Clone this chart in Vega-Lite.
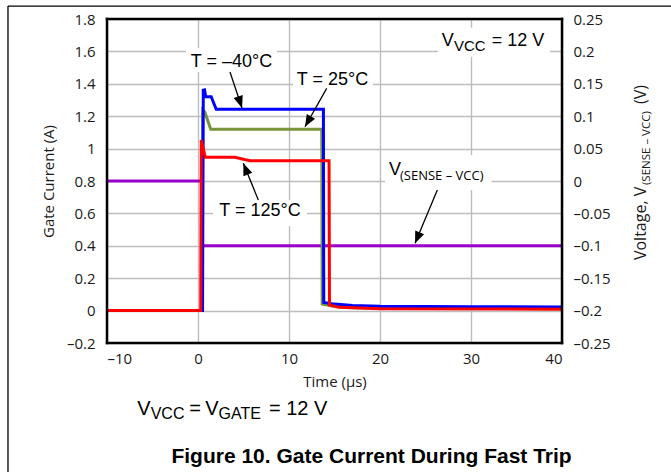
{
  "$schema": "https://vega.github.io/schema/vega-lite/v6.json",
  "width": 455,
  "height": 324,
  "autosize": {"type": "none"},
  "padding": {"left": 107, "top": 19, "right": 109, "bottom": 129},
  "background": "white",
  "config": {
    "view": {"stroke": null},
    "axis": {
      "labelFont": "Open Sans", "labelFontSize": 15, "labelColor": "#1a1a1a", "labelOverlap": false,
      "titleFont": "Open Sans", "titleFontSize": 15, "titleFontWeight": "normal", "titleColor": "#1a1a1a",
      "ticks": false, "domain": false, "gridColor": "#bdbdbd", "gridWidth": 1.4
    },
    "text": {"font": "Liberation Sans", "color": "black"}
  },
  "datasets": {
    "curves": [
      {"s": "T = 25°C", "t": -10, "v": 0},
      {"s": "T = 25°C", "t": 0.45, "v": 0},
      {"s": "T = 25°C", "t": 0.52, "v": 1.238},
      {"s": "T = 25°C", "t": 0.75, "v": 1.225},
      {"s": "T = 25°C", "t": 1.4, "v": 1.119},
      {"s": "T = 25°C", "t": 13.6, "v": 1.119},
      {"s": "T = 25°C", "t": 13.65, "v": 0.04},
      {"s": "T = 25°C", "t": 15, "v": 0.025},
      {"s": "T = 25°C", "t": 17, "v": 0.018},
      {"s": "T = 25°C", "t": 20, "v": 0.016},
      {"s": "T = 25°C", "t": 40, "v": 0.014},
      {"s": "T = –40°C", "t": -10, "v": 0},
      {"s": "T = –40°C", "t": 0.5, "v": 0},
      {"s": "T = –40°C", "t": 0.58, "v": 1.36},
      {"s": "T = –40°C", "t": 0.72, "v": 1.362},
      {"s": "T = –40°C", "t": 0.85, "v": 1.32},
      {"s": "T = –40°C", "t": 1.45, "v": 1.32},
      {"s": "T = –40°C", "t": 2.0, "v": 1.243},
      {"s": "T = –40°C", "t": 13.78, "v": 1.243},
      {"s": "T = –40°C", "t": 13.82, "v": 0.05},
      {"s": "T = –40°C", "t": 15, "v": 0.04},
      {"s": "T = –40°C", "t": 17, "v": 0.032},
      {"s": "T = –40°C", "t": 20, "v": 0.027},
      {"s": "T = –40°C", "t": 30, "v": 0.024},
      {"s": "T = –40°C", "t": 40, "v": 0.022},
      {"s": "T = 125°C", "t": -10, "v": 0},
      {"s": "T = 125°C", "t": 0.3, "v": 0},
      {"s": "T = 125°C", "t": 0.36, "v": 1.053},
      {"s": "T = 125°C", "t": 0.8, "v": 0.946},
      {"s": "T = 125°C", "t": 4.05, "v": 0.946},
      {"s": "T = 125°C", "t": 5.7, "v": 0.925},
      {"s": "T = 125°C", "t": 14.4, "v": 0.925},
      {"s": "T = 125°C", "t": 14.45, "v": 0.035},
      {"s": "T = 125°C", "t": 15.5, "v": 0.02},
      {"s": "T = 125°C", "t": 20, "v": 0.012},
      {"s": "T = 125°C", "t": 40, "v": 0.008}
    ],
    "sense": [
      {"t": -10, "v": 0},
      {"t": 0.38, "v": 0},
      {"t": 0.42, "v": -0.1},
      {"t": 40, "v": -0.1}
    ],
    "boxes": [
      {"t": -1.32, "t2": 8.68, "v": 1.473, "v2": 1.621},
      {"t": 10.44, "t2": 19.23, "v": 1.331, "v2": 1.485},
      {"t": 1.65, "t2": 11.98, "v": 0.522, "v2": 0.683},
      {"t": 20.55, "t2": 32.27, "v": 0.744, "v2": 0.96},
      {"t": 26.37, "t2": 38.68, "v": 1.567, "v2": 1.746}
    ],
    "arrows": [
      {"a": "a1", "t": 3.516, "v": 1.473, "t2": 4.835, "v2": 1.251},
      {"a": "a2", "t": 14.14, "v": 1.372, "t2": 11.76, "v2": 1.135},
      {"a": "a3", "t": 6.63, "v": 0.683, "t2": 4.98, "v2": 0.909},
      {"a": "a4", "t": 26.3, "v": 0.744, "t2": 23.85, "v2": 0.415}
    ],
    "notes": [
      {"k": "c18", "text": "T = –40°C", "t": 3.68, "v": 1.506},
      {"k": "c18", "text": "T = 25°C", "t": 14.78, "v": 1.393},
      {"k": "c18", "text": "T = 125°C", "t": 6.81, "v": 0.584},
      {"k": "l18", "text": "V", "t": 20.99, "v": 0.837},
      {"k": "l18", "text": "V", "t": 26.78, "v": 1.635},
      {"k": "l18", "text": "= 12 V", "t": 32.27, "v": 1.635},
      {"k": "l15", "text": "VCC", "t": 28.13, "v": 1.602},
      {"k": "s13", "text": "(SENSE – VCC)", "t": 22.2, "v": 0.806},
      {"k": "l20", "text": "V", "t": -6.67, "v": -0.644},
      {"k": "l20", "text": "=", "t": -0.956, "v": -0.644},
      {"k": "l20", "text": "V", "t": 0.8, "v": -0.644},
      {"k": "l20", "text": "= 12 V", "t": 7.802, "v": -0.644},
      {"k": "l16", "text": "VCC", "t": -5.198, "v": -0.671},
      {"k": "l16", "text": "GATE", "t": 2.26, "v": -0.671},
      {"k": "b21", "text": "Figure 10. Gate Current During Fast Trip", "t": 19.07, "v": -0.943},
      {"k": "r16", "text": "Voltage, V", "t": 49.23, "v": 0.312},
      {"k": "r16", "text": "(V)", "t": 49.23, "v": 1.275},
      {"k": "r11", "text": "(SENSE – VCC)", "t": 49.67, "v": 0.775}
    ],
    "frame": [
      {"t": -10, "v": -0.2, "t2": -10, "v2": 1.8},
      {"t": 40, "v": -0.2, "t2": 40, "v2": 1.8},
      {"t": -10, "v": -0.2, "t2": 40, "v2": -0.2},
      {"t": -10, "v": 1.8, "t2": 40, "v2": 1.8}
    ],
    "outer": [
      {"t": -20.88, "v": 1.88, "t2": -20.88, "v2": -1.0},
      {"t": -20.88, "v": 1.88, "t2": 51.98, "v2": 1.88}
    ]
  },
  "resolve": {"scale": {"x": "independent", "y": "independent"}},
  "layer": [
    {
      "data": {"name": "sense"},
      "mark": {"type": "line", "color": "#9900cc", "strokeWidth": 3},
      "encoding": {
        "x": {"field": "t", "type": "quantitative", "scale": {"domain": [-10, 40], "nice": false, "zero": false}, "axis": null},
        "y": {
          "field": "v", "type": "quantitative",
          "scale": {"domain": [-0.25, 0.25], "nice": false, "zero": false},
          "axis": {
            "orient": "right", "title": null, "grid": false, "labelPadding": 11,
            "values": [-0.25, -0.2, -0.15, -0.1, -0.05, 0, 0.05, 0.1, 0.15, 0.2, 0.25],
            "labelExpr": "datum.value < 0 ? '–' + format(-datum.value, '~g') : format(datum.value, '~g')"
          }
        }
      }
    },
    {
      "data": {"name": "curves"},
      "mark": {"type": "line", "strokeWidth": 3},
      "encoding": {
        "x": {
          "field": "t", "type": "quantitative",
          "scale": {"domain": [-10, 40], "nice": false, "zero": false},
          "axis": {
            "orient": "bottom", "title": "Time (µs)", "grid": true, "labelPadding": 8, "titlePadding": 8,
            "values": [-10, 0, 10, 20, 30, 40],
            "labelExpr": "datum.value < 0 ? '–' + format(-datum.value, '~g') : format(datum.value, '~g')"
          }
        },
        "y": {
          "field": "v", "type": "quantitative",
          "scale": {"domain": [-0.2, 1.8], "nice": false, "zero": false},
          "axis": {
            "orient": "left", "title": "Gate Current (A)", "grid": true, "labelPadding": 12, "titlePadding": 10,
            "values": [-0.2, 0, 0.2, 0.4, 0.6, 0.8, 1, 1.2, 1.4, 1.6, 1.8],
            "labelExpr": "datum.value < 0 ? '–' + format(-datum.value, '~g') : format(datum.value, '~g')"
          }
        },
        "color": {
          "field": "s", "type": "nominal",
          "scale": {"domain": ["T = 25°C", "T = –40°C", "T = 125°C"], "range": ["#77933c", "#0000ff", "#ff0000"]},
          "legend": null
        }
      }
    },
    {
      "data": {"name": "boxes"},
      "mark": {"type": "rect", "fill": "white"},
      "encoding": {
        "x": {"field": "t", "type": "quantitative", "scale": {"domain": [-10, 40], "nice": false, "zero": false}, "axis": null},
        "x2": {"field": "t2"},
        "y": {"field": "v", "type": "quantitative", "scale": {"domain": [-0.2, 1.8], "nice": false, "zero": false}, "axis": null},
        "y2": {"field": "v2"}
      }
    },
    {
      "data": {"name": "arrows"},
      "mark": {"type": "rule", "color": "black", "strokeWidth": 1.3},
      "encoding": {
        "x": {"field": "t", "type": "quantitative", "scale": {"domain": [-10, 40], "nice": false, "zero": false}, "axis": null},
        "x2": {"field": "t2"},
        "y": {"field": "v", "type": "quantitative", "scale": {"domain": [-0.2, 1.8], "nice": false, "zero": false}, "axis": null},
        "y2": {"field": "v2"}
      }
    },
    {
      "data": {"name": "arrows"},
      "transform": [{"filter": "datum.a === 'a1'"}],
      "mark": {"type": "point", "shape": "M0,0L-0.8,2L0.8,2Z", "filled": true, "color": "black", "opacity": 1, "size": 144, "angle": 161.6},
      "encoding": {
        "x": {"field": "t2", "type": "quantitative", "scale": {"domain": [-10, 40], "nice": false, "zero": false}, "axis": null},
        "y": {"field": "v2", "type": "quantitative", "scale": {"domain": [-0.2, 1.8], "nice": false, "zero": false}, "axis": null}
      }
    },
    {
      "data": {"name": "arrows"},
      "transform": [{"filter": "datum.a === 'a2'"}],
      "mark": {"type": "point", "shape": "M0,0L-0.8,2L0.8,2Z", "filled": true, "color": "black", "opacity": 1, "size": 144, "angle": 209.5},
      "encoding": {
        "x": {"field": "t2", "type": "quantitative", "scale": {"domain": [-10, 40], "nice": false, "zero": false}, "axis": null},
        "y": {"field": "v2", "type": "quantitative", "scale": {"domain": [-0.2, 1.8], "nice": false, "zero": false}, "axis": null}
      }
    },
    {
      "data": {"name": "arrows"},
      "transform": [{"filter": "datum.a === 'a3'"}],
      "mark": {"type": "point", "shape": "M0,0L-0.8,2L0.8,2Z", "filled": true, "color": "black", "opacity": 1, "size": 144, "angle": 337.8},
      "encoding": {
        "x": {"field": "t2", "type": "quantitative", "scale": {"domain": [-10, 40], "nice": false, "zero": false}, "axis": null},
        "y": {"field": "v2", "type": "quantitative", "scale": {"domain": [-0.2, 1.8], "nice": false, "zero": false}, "axis": null}
      }
    },
    {
      "data": {"name": "arrows"},
      "transform": [{"filter": "datum.a === 'a4'"}],
      "mark": {"type": "point", "shape": "M0,0L-0.8,2L0.8,2Z", "filled": true, "color": "black", "opacity": 1, "size": 144, "angle": 202.7},
      "encoding": {
        "x": {"field": "t2", "type": "quantitative", "scale": {"domain": [-10, 40], "nice": false, "zero": false}, "axis": null},
        "y": {"field": "v2", "type": "quantitative", "scale": {"domain": [-0.2, 1.8], "nice": false, "zero": false}, "axis": null}
      }
    },
    {
      "data": {"name": "notes"},
      "transform": [{"filter": "datum.k === 'c18'"}],
      "mark": {"type": "text", "fontSize": 18, "align": "center", "baseline": "alphabetic"},
      "encoding": {
        "x": {"field": "t", "type": "quantitative", "scale": {"domain": [-10, 40], "nice": false, "zero": false}, "axis": null},
        "y": {"field": "v", "type": "quantitative", "scale": {"domain": [-0.2, 1.8], "nice": false, "zero": false}, "axis": null},
        "text": {"field": "text"}
      }
    },
    {
      "data": {"name": "notes"},
      "transform": [{"filter": "datum.k === 'l18'"}],
      "mark": {"type": "text", "fontSize": 18, "align": "left", "baseline": "alphabetic"},
      "encoding": {
        "x": {"field": "t", "type": "quantitative", "scale": {"domain": [-10, 40], "nice": false, "zero": false}, "axis": null},
        "y": {"field": "v", "type": "quantitative", "scale": {"domain": [-0.2, 1.8], "nice": false, "zero": false}, "axis": null},
        "text": {"field": "text"}
      }
    },
    {
      "data": {"name": "notes"},
      "transform": [{"filter": "datum.k === 'l15'"}],
      "mark": {"type": "text", "fontSize": 15, "align": "left", "baseline": "alphabetic"},
      "encoding": {
        "x": {"field": "t", "type": "quantitative", "scale": {"domain": [-10, 40], "nice": false, "zero": false}, "axis": null},
        "y": {"field": "v", "type": "quantitative", "scale": {"domain": [-0.2, 1.8], "nice": false, "zero": false}, "axis": null},
        "text": {"field": "text"}
      }
    },
    {
      "data": {"name": "notes"},
      "transform": [{"filter": "datum.k === 's13'"}],
      "mark": {"type": "text", "font": "Open Sans", "fontSize": 13, "align": "left", "baseline": "alphabetic"},
      "encoding": {
        "x": {"field": "t", "type": "quantitative", "scale": {"domain": [-10, 40], "nice": false, "zero": false}, "axis": null},
        "y": {"field": "v", "type": "quantitative", "scale": {"domain": [-0.2, 1.8], "nice": false, "zero": false}, "axis": null},
        "text": {"field": "text"}
      }
    },
    {
      "data": {"name": "notes"},
      "transform": [{"filter": "datum.k === 'l20'"}],
      "mark": {"type": "text", "fontSize": 20, "align": "left", "baseline": "alphabetic"},
      "encoding": {
        "x": {"field": "t", "type": "quantitative", "scale": {"domain": [-10, 40], "nice": false, "zero": false}, "axis": null},
        "y": {"field": "v", "type": "quantitative", "scale": {"domain": [-0.2, 1.8], "nice": false, "zero": false}, "axis": null},
        "text": {"field": "text"}
      }
    },
    {
      "data": {"name": "notes"},
      "transform": [{"filter": "datum.k === 'l16'"}],
      "mark": {"type": "text", "fontSize": 16, "align": "left", "baseline": "alphabetic"},
      "encoding": {
        "x": {"field": "t", "type": "quantitative", "scale": {"domain": [-10, 40], "nice": false, "zero": false}, "axis": null},
        "y": {"field": "v", "type": "quantitative", "scale": {"domain": [-0.2, 1.8], "nice": false, "zero": false}, "axis": null},
        "text": {"field": "text"}
      }
    },
    {
      "data": {"name": "notes"},
      "transform": [{"filter": "datum.k === 'b21'"}],
      "mark": {"type": "text", "fontSize": 21, "fontWeight": "bold", "align": "center", "baseline": "alphabetic"},
      "encoding": {
        "x": {"field": "t", "type": "quantitative", "scale": {"domain": [-10, 40], "nice": false, "zero": false}, "axis": null},
        "y": {"field": "v", "type": "quantitative", "scale": {"domain": [-0.2, 1.8], "nice": false, "zero": false}, "axis": null},
        "text": {"field": "text"}
      }
    },
    {
      "data": {"name": "notes"},
      "transform": [{"filter": "datum.k === 'r16'"}],
      "mark": {"type": "text", "font": "Open Sans", "fontSize": 16, "color": "#1a1a1a", "angle": 270, "align": "left", "baseline": "alphabetic"},
      "encoding": {
        "x": {"field": "t", "type": "quantitative", "scale": {"domain": [-10, 40], "nice": false, "zero": false}, "axis": null},
        "y": {"field": "v", "type": "quantitative", "scale": {"domain": [-0.2, 1.8], "nice": false, "zero": false}, "axis": null},
        "text": {"field": "text"}
      }
    },
    {
      "data": {"name": "notes"},
      "transform": [{"filter": "datum.k === 'r11'"}],
      "mark": {"type": "text", "font": "Open Sans", "fontSize": 11.5, "color": "#1a1a1a", "angle": 270, "align": "left", "baseline": "alphabetic"},
      "encoding": {
        "x": {"field": "t", "type": "quantitative", "scale": {"domain": [-10, 40], "nice": false, "zero": false}, "axis": null},
        "y": {"field": "v", "type": "quantitative", "scale": {"domain": [-0.2, 1.8], "nice": false, "zero": false}, "axis": null},
        "text": {"field": "text"}
      }
    },
    {
      "data": {"name": "frame"},
      "mark": {"type": "rule", "color": "black", "strokeWidth": 2.5, "strokeCap": "square"},
      "encoding": {
        "x": {"field": "t", "type": "quantitative", "scale": {"domain": [-10, 40], "nice": false, "zero": false}, "axis": null},
        "x2": {"field": "t2"},
        "y": {"field": "v", "type": "quantitative", "scale": {"domain": [-0.2, 1.8], "nice": false, "zero": false}, "axis": null},
        "y2": {"field": "v2"}
      }
    },
    {
      "data": {"name": "outer"},
      "mark": {"type": "rule", "color": "black", "strokeWidth": 1.3},
      "encoding": {
        "x": {"field": "t", "type": "quantitative", "scale": {"domain": [-10, 40], "nice": false, "zero": false}, "axis": null},
        "x2": {"field": "t2"},
        "y": {"field": "v", "type": "quantitative", "scale": {"domain": [-0.2, 1.8], "nice": false, "zero": false}, "axis": null},
        "y2": {"field": "v2"}
      }
    }
  ]
}
